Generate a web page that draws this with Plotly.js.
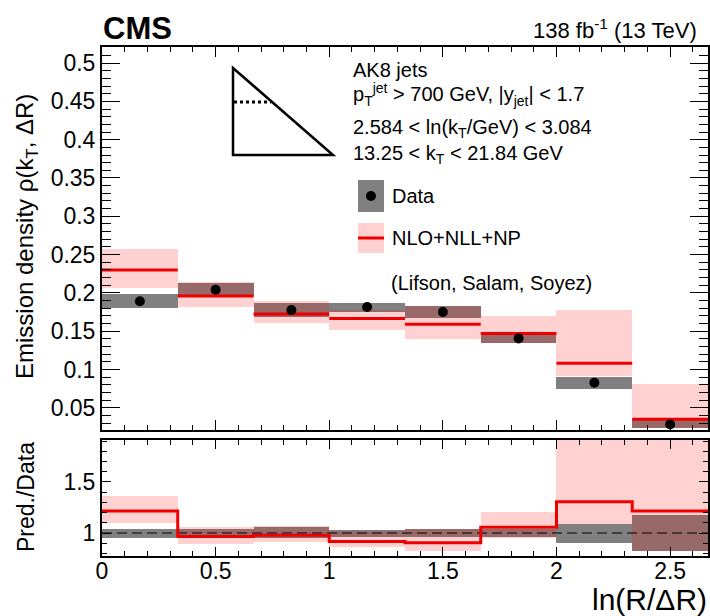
<!DOCTYPE html>
<html>
<head>
<meta charset="utf-8">
<script src="https://cdn.plot.ly/plotly-3.0.1.min.js"></script>
<style>html,body{margin:0;padding:0;background:#fff;}#chart{width:710px;height:616px;}</style>
</head>
<body>
<div id="chart"></div>
<script>
// ---- data ----
const binEdges = [0, 0.3333, 0.6667, 1.0, 1.3333, 1.6667, 2.0, 2.3333, 2.6667];

const dataY  = [0.189, 0.204, 0.1775, 0.1815, 0.175, 0.1406, 0.0827, 0.0283];
const dataLo = [0.180, 0.196, 0.168, 0.1755, 0.1667, 0.135, 0.0744, 0.0233];
const dataHi = [0.198, 0.213, 0.187, 0.187, 0.1824, 0.1488, 0.0906, 0.036];

const predY  = [0.230, 0.196, 0.1723, 0.1667, 0.1589, 0.147, 0.108, 0.0349];
const predLo = [0.207, 0.181, 0.161, 0.152, 0.140, 0.135, 0.091, 0.0233];
const predHi = [0.257, 0.2145, 0.1897, 0.1775, 0.1828, 0.1697, 0.178, 0.0805];

const ratioY      = [1.216, 0.965, 0.978, 0.918, 0.905, 1.057, 1.307, 1.216];
const ratioPredLo = [1.095, 0.895, 0.91, 0.86, 0.82, 0.954, 1.087, 0.82];
const ratioPredHi = [1.363, 1.06, 1.065, 1.02, 1.04, 1.206, 2.15, 2.84];
const ratioDataLo = [0.954, 0.958, 0.954, 0.96, 0.96, 0.96, 0.905, 0.824];
const ratioDataHi = [1.042, 1.042, 1.062, 1.026, 1.036, 1.042, 1.087, 1.176];

// ---- derived helpers ----
const centers = binEdges.slice(0, -1).map((e, i) => (e + binEdges[i + 1]) / 2);
const widths  = binEdges.slice(0, -1).map((e, i) => binEdges[i + 1] - e);
const diff = (hi, lo) => hi.map((h, i) => h - lo[i]);

// horizontal segments per bin (top panel)
const segX = [], segY = [];
predY.forEach((v, i) => { segX.push(binEdges[i], binEdges[i + 1], null); segY.push(v, v, null); });
// connected step line (ratio panel)
const stepX = binEdges.slice();
const stepY = ratioY.concat([ratioY[ratioY.length - 1]]);

const GRAY = 'rgb(128,128,128)';
const PINK = 'rgba(255,0,0,0.18)';
const RED = 'rgb(238,0,0)';
const FONT = 'Liberation Sans, Arial, Helvetica, sans-serif';

const traces = [
  {type: 'bar', x: centers, y: diff(dataHi, dataLo), base: dataLo, width: widths,
   marker: {color: GRAY, line: {width: 0}}, xaxis: 'x', yaxis: 'y', hoverinfo: 'skip', showlegend: false},
  {type: 'bar', x: centers, y: diff(predHi, predLo), base: predLo, width: widths,
   marker: {color: PINK, line: {width: 0}}, xaxis: 'x', yaxis: 'y', hoverinfo: 'skip', showlegend: false},
  {type: 'scatter', mode: 'lines', x: segX, y: segY, line: {color: RED, width: 3},
   xaxis: 'x', yaxis: 'y', connectgaps: false, showlegend: false},
  {type: 'scatter', mode: 'markers', x: centers, y: dataY, marker: {color: 'black', size: 10},
   xaxis: 'x', yaxis: 'y', showlegend: false},

  {type: 'bar', x: centers, y: diff(ratioDataHi, ratioDataLo), base: ratioDataLo, width: widths,
   marker: {color: GRAY, line: {width: 0}}, xaxis: 'x2', yaxis: 'y2', hoverinfo: 'skip', showlegend: false},
  {type: 'bar', x: centers, y: diff(ratioPredHi, ratioPredLo), base: ratioPredLo, width: widths,
   marker: {color: PINK, line: {width: 0}}, xaxis: 'x2', yaxis: 'y2', hoverinfo: 'skip', showlegend: false},
  {type: 'scatter', mode: 'lines', x: [binEdges[0], binEdges[binEdges.length - 1]], y: [1, 1],
   line: {color: 'black', width: 1, dash: '10px,5px'}, xaxis: 'x2', yaxis: 'y2', showlegend: false},
  {type: 'scatter', mode: 'lines', x: stepX, y: stepY, line: {color: RED, width: 3, shape: 'hv'},
   xaxis: 'x2', yaxis: 'y2', showlegend: false}
];

// pixel -> paper helpers for decorations
const L = 102, R = 708, T = 47, B = 556;
const px = x => (x - L) / (R - L);
const py = y => (B - y) / (B - T);

const axisCommon = {
  showline: true, linewidth: 2, linecolor: 'black', mirror: 'ticks',
  ticks: 'inside', tickcolor: 'black', tickwidth: 1,
  showgrid: false, zeroline: false, tickfont: {family: FONT, size: 23, color: 'black'}
};

const layout = {
  width: 710, height: 616,
  margin: {l: L, r: 710 - R, t: T, b: 616 - B},
  paper_bgcolor: 'white', plot_bgcolor: 'white',
  barmode: 'overlay', bargap: 0,
  font: {family: FONT, color: 'black'},
  showlegend: false,
  xaxis: Object.assign({}, axisCommon, {
    domain: [0, 1], anchor: 'y', range: [0, 2.6667], tick0: 0, dtick: 0.5, ticklen: 10,
    showticklabels: false,
    minor: {ticks: 'inside', ticklen: 5, dtick: 0.1, tick0: 0, tickcolor: 'black', tickwidth: 1, showgrid: false}
  }),
  yaxis: Object.assign({}, axisCommon, {
    domain: [py(430), 1], anchor: 'x', range: [0.021, 0.521], tick0: 0, dtick: 0.05, ticklen: 18,
    minor: {ticks: 'inside', ticklen: 9, dtick: 0.01, tick0: 0, tickcolor: 'black', tickwidth: 1, showgrid: false}
  }),
  xaxis2: Object.assign({}, axisCommon, {
    domain: [0, 1], anchor: 'y2', range: [0, 2.6667], tick0: 0, dtick: 0.5, ticklen: 9,
    ticklabelstandoff: -7,
    minor: {ticks: 'inside', ticklen: 5, dtick: 0.1, tick0: 0, tickcolor: 'black', tickwidth: 1, showgrid: false}
  }),
  yaxis2: Object.assign({}, axisCommon, {
    domain: [0, py(440)], anchor: 'x2', range: [0.775, 1.91], tick0: 0, dtick: 0.5, ticklen: 9,
    minor: {ticks: 'inside', ticklen: 5, dtick: 0.1, tick0: 0, tickcolor: 'black', tickwidth: 1, showgrid: false}
  }),
  shapes: [
    // triangle icon
    {type: 'path', xref: 'paper', yref: 'paper',
     path: `M ${px(233)} ${py(68)} L ${px(233)} ${py(155)} L ${px(333)} ${py(155)} Z`,
     line: {color: 'black', width: 2.5}},
    {type: 'line', xref: 'paper', yref: 'paper', x0: px(234), x1: px(271), y0: py(102), y1: py(102),
     line: {color: 'black', width: 3, dash: '3px,3px'}},
    // legend boxes
    {type: 'rect', xref: 'paper', yref: 'paper', x0: px(358), x1: px(384), y0: py(212), y1: py(180),
     fillcolor: GRAY, line: {width: 0}},
    {type: 'circle', xref: 'paper', yref: 'paper', x0: px(366), x1: px(376), y0: py(201), y1: py(191),
     fillcolor: 'black', line: {width: 0}},
    {type: 'rect', xref: 'paper', yref: 'paper', x0: px(358), x1: px(384), y0: py(253), y1: py(223),
     fillcolor: PINK, line: {width: 0}},
    {type: 'line', xref: 'paper', yref: 'paper', x0: px(358), x1: px(384), y0: py(238), y1: py(238),
     line: {color: RED, width: 3}}
  ],
  annotations: [
    {xref: 'paper', yref: 'paper', x: px(101), y: py(28), xanchor: 'left', yanchor: 'middle', showarrow: false,
     text: '<b>CMS</b>', font: {family: FONT, size: 31, color: 'black'}},
    {xref: 'paper', yref: 'paper', x: px(699), y: py(29), xanchor: 'right', yanchor: 'middle', showarrow: false,
     text: '138 fb<sup>-1</sup> (13 TeV)', font: {family: FONT, size: 22, color: 'black'}},
    {xref: 'paper', yref: 'paper', x: px(26), y: py(237), xanchor: 'center', yanchor: 'middle', showarrow: false,
     textangle: -90, text: 'Emission density ρ(k<sub>T</sub>, ΔR)', font: {family: FONT, size: 24, color: 'black'}},
    {xref: 'paper', yref: 'paper', x: px(26), y: py(497), xanchor: 'center', yanchor: 'middle', showarrow: false,
     textangle: -90, text: 'Pred./Data', font: {family: FONT, size: 23, color: 'black'}},
    {xref: 'paper', yref: 'paper', x: px(709), y: py(599), xanchor: 'right', yanchor: 'middle', showarrow: false,
     text: 'ln(R/ΔR)', font: {family: FONT, size: 30, color: 'black'}},
    {xref: 'paper', yref: 'paper', x: px(351), y: py(70), xanchor: 'left', yanchor: 'middle', showarrow: false,
     text: 'AK8 jets', font: {family: FONT, size: 20, color: 'black'}},
    {xref: 'paper', yref: 'paper', x: px(351), y: py(94), xanchor: 'left', yanchor: 'middle', showarrow: false,
     text: 'p<sub>T</sub><sup>jet</sup> > 700 GeV, |y<sub>jet</sub>| < 1.7', font: {family: FONT, size: 20, color: 'black'}},
    {xref: 'paper', yref: 'paper', x: px(351), y: py(128), xanchor: 'left', yanchor: 'middle', showarrow: false,
     text: '2.584 < ln(k<sub>T</sub>/GeV) < 3.084', font: {family: FONT, size: 20, color: 'black'}},
    {xref: 'paper', yref: 'paper', x: px(351), y: py(154), xanchor: 'left', yanchor: 'middle', showarrow: false,
     text: '13.25 < k<sub>T</sub> < 21.84 GeV', font: {family: FONT, size: 20, color: 'black'}},
    {xref: 'paper', yref: 'paper', x: px(390), y: py(196), xanchor: 'left', yanchor: 'middle', showarrow: false,
     text: 'Data', font: {family: FONT, size: 20, color: 'black'}},
    {xref: 'paper', yref: 'paper', x: px(390), y: py(238), xanchor: 'left', yanchor: 'middle', showarrow: false,
     text: 'NLO+NLL+NP', font: {family: FONT, size: 20, color: 'black'}},
    {xref: 'paper', yref: 'paper', x: px(389), y: py(283), xanchor: 'left', yanchor: 'middle', showarrow: false,
     text: '(Lifson, Salam, Soyez)', font: {family: FONT, size: 20, color: 'black'}}
  ]
};

Plotly.newPlot('chart', traces, layout, {displayModeBar: false, staticPlot: true});
</script>
</body>
</html>
